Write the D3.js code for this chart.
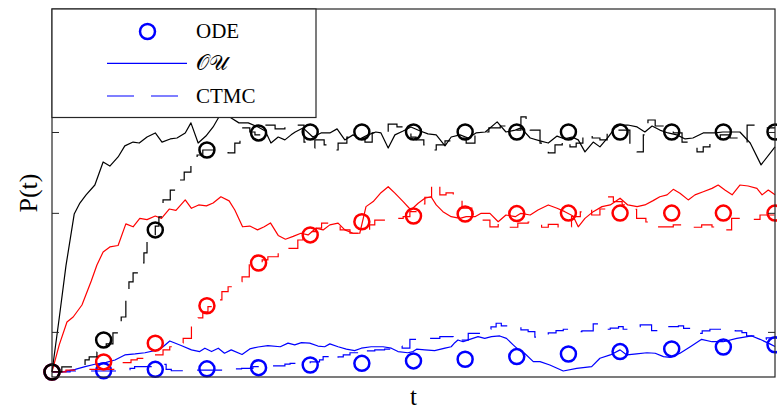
<!DOCTYPE html>
<html>
<head>
<meta charset="utf-8">
<script src="https://cdn.jsdelivr.net/npm/d3@7"></script>
<style>
  html, body { margin: 0; padding: 0; background: #fff; }
  svg { display: block; }
</style>
</head>
<body>
<svg id="chart" width="777" height="412"></svg>
<script>
// ODE solution, sampled at integer times
const odeTimes = [0, 1, 2, 3, 4, 5, 6, 7, 8, 9, 10, 11, 12, 13, 14];
const odeBlack = [0, 0.133, 0.592, 0.925, 0.996, 1, 1, 1, 1, 1, 1, 1, 1, 1, 1];
const odeRed = [0, 0.042, 0.12, 0.276, 0.454, 0.571, 0.626, 0.65, 0.658, 0.66, 0.662, 0.662, 0.662, 0.662, 0.662];
const odeBlue = [0, 0.005, 0.011, 0.013, 0.018, 0.029, 0.036, 0.046, 0.053, 0.064, 0.075, 0.085, 0.096, 0.104, 0.113];

// OU sample paths [t, P]
const ouBlack = [[0,0],[0.14,0.225],[0.27,0.442],[0.43,0.658],[0.54,0.704],[0.66,0.738],[0.83,0.779],[0.99,0.875],[1.12,0.858],[1.28,0.896],[1.41,0.942],[1.57,0.958],[1.69,0.954],[1.84,0.979],[2.0,0.996],[2.13,0.958],[2.29,0.971],[2.42,0.975],[2.58,0.996],[2.69,1.038],[2.83,0.954],[2.98,0.983],[3.12,1.021],[3.22,1.058],[3.35,1.1],[3.47,1.058],[3.62,1.038],[3.8,1.038],[3.99,1.021],[4.13,1.004],[4.24,0.954],[4.38,0.979],[4.51,0.967],[4.63,0.988],[4.71,1.0],[4.86,1.017],[5.05,0.979],[5.21,0.996],[5.38,0.996],[5.52,1.013],[5.67,0.967],[5.83,0.988],[5.96,0.971],[6.12,0.988],[6.27,1.0],[6.37,0.996],[6.51,0.933],[6.64,0.988],[6.8,1.004],[6.95,1.021],[7.13,1.004],[7.28,0.992],[7.44,0.988],[7.61,0.942],[7.73,0.979],[7.9,0.988],[8.06,0.975],[8.21,0.996],[8.39,1.0],[8.62,1.042],[8.79,1.0],[8.97,1.008],[9.08,1.017],[9.26,0.975],[9.45,0.963],[9.61,0.954],[9.78,0.983],[9.93,0.971],[10.07,0.979],[10.19,0.967],[10.32,0.917],[10.48,0.958],[10.61,0.938],[10.77,0.979],[10.9,1.017],[11.0,1.029],[11.15,1.029],[11.33,1.021],[11.48,1.0],[11.62,1.025],[11.77,1.008],[11.93,0.996],[12.1,0.988],[12.26,0.971],[12.41,0.975],[12.61,0.996],[12.84,0.996],[12.99,1.0],[13.17,1.0],[13.32,1.0],[13.52,0.954],[13.73,0.863],[14,0.938]];
const ouRed = [[0,0],[0.14,0.113],[0.29,0.208],[0.41,0.229],[0.58,0.279],[0.76,0.379],[0.87,0.446],[0.99,0.5],[1.12,0.521],[1.28,0.527],[1.43,0.617],[1.57,0.605],[1.7,0.64],[1.84,0.635],[2.0,0.65],[2.12,0.64],[2.27,0.679],[2.4,0.673],[2.58,0.717],[2.7,0.682],[2.84,0.696],[2.99,0.692],[3.12,0.704],[3.27,0.73],[3.43,0.713],[3.54,0.675],[3.69,0.605],[3.83,0.608],[3.98,0.592],[4.11,0.605],[4.23,0.621],[4.38,0.569],[4.52,0.553],[4.67,0.565],[4.82,0.578],[4.96,0.571],[5.11,0.599],[5.25,0.592],[5.38,0.613],[5.54,0.62],[5.67,0.592],[5.83,0.578],[5.96,0.578],[6.08,0.689],[6.22,0.71],[6.37,0.747],[6.51,0.772],[6.64,0.745],[6.8,0.71],[6.95,0.675],[7.09,0.703],[7.22,0.724],[7.34,0.73],[7.44,0.696],[7.57,0.668],[7.73,0.647],[7.9,0.64],[8.02,0.647],[8.19,0.647],[8.31,0.661],[8.48,0.661],[8.64,0.626],[8.79,0.654],[8.97,0.647],[9.08,0.661],[9.26,0.654],[9.41,0.675],[9.61,0.696],[9.78,0.682],[9.93,0.668],[10.09,0.65],[10.19,0.605],[10.32,0.64],[10.48,0.668],[10.65,0.689],[10.81,0.696],[11.0,0.724],[11.15,0.696],[11.33,0.689],[11.48,0.696],[11.64,0.714],[11.77,0.73],[11.91,0.738],[12.03,0.761],[12.16,0.745],[12.32,0.717],[12.45,0.738],[12.61,0.751],[12.78,0.765],[12.9,0.779],[13.03,0.758],[13.17,0.738],[13.32,0.779],[13.48,0.775],[13.65,0.765],[13.75,0.738],[13.87,0.758],[14,0.738]];
const ouBlue = [[0,0],[0.21,0.001],[0.45,0.011],[0.64,0.022],[0.83,0.032],[1.05,0.04],[1.22,0.05],[1.41,0.071],[1.61,0.075],[1.8,0.08],[2.05,0.092],[2.15,0.105],[2.28,0.129],[2.5,0.11],[2.7,0.092],[2.86,0.085],[2.96,0.099],[3.09,0.085],[3.22,0.099],[3.34,0.078],[3.47,0.092],[3.68,0.073],[3.83,0.096],[3.99,0.104],[4.18,0.11],[4.42,0.105],[4.57,0.12],[4.7,0.113],[4.83,0.122],[4.99,0.12],[5.15,0.108],[5.28,0.105],[5.38,0.117],[5.54,0.105],[5.7,0.095],[5.86,0.089],[5.99,0.099],[6.18,0.105],[6.41,0.105],[6.57,0.099],[6.7,0.085],[6.89,0.08],[6.99,0.085],[7.06,0.095],[7.22,0.092],[7.41,0.089],[7.61,0.099],[7.73,0.105],[7.8,0.122],[7.86,0.133],[7.96,0.126],[8.09,0.136],[8.25,0.147],[8.38,0.14],[8.51,0.147],[8.67,0.15],[8.8,0.14],[8.93,0.113],[9.02,0.095],[9.15,0.078],[9.32,0.043],[9.45,0.043],[9.64,0.029],[9.9,0.004],[10.16,0.015],[10.45,0.022],[10.61,0.057],[10.81,0.071],[11.0,0.092],[11.13,0.071],[11.32,0.075],[11.52,0.08],[11.68,0.078],[11.84,0.064],[11.97,0.061],[12.16,0.078],[12.36,0.105],[12.58,0.136],[12.78,0.126],[13.0,0.126],[13.26,0.14],[13.55,0.15],[13.71,0.136],[13.9,0.117],[14,0.106]];

// CTMC jump times and levels [t, P]
const ctmcBlack = [[0,0],[0.19,0.021],[0.64,0.05],[0.72,0.063],[0.87,0.083],[1.05,0.117],[1.18,0.163],[1.3,0.188],[1.34,0.229],[1.43,0.329],[1.49,0.375],[1.57,0.413],[1.7,0.454],[1.78,0.496],[1.84,0.558],[2.0,0.608],[2.07,0.646],[2.15,0.717],[2.29,0.758],[2.4,0.8],[2.56,0.833],[2.69,0.875],[2.81,0.904],[2.92,0.925],[3.41,0.913],[3.54,0.954],[3.64,1.017],[3.83,1.0],[3.93,0.988],[4.09,1.029],[4.32,1.013],[4.51,1.029],[4.88,0.958],[4.96,0.933],[5.09,0.967],[5.27,0.946],[5.4,0.925],[5.54,0.954],[5.71,0.979],[5.83,0.975],[6.06,0.958],[6.2,0.996],[6.35,1.0],[6.51,1.033],[6.68,1.021],[6.89,1.017],[6.95,0.979],[7.05,0.967],[7.2,0.946],[7.32,0.925],[7.44,0.946],[7.61,0.963],[7.86,0.975],[8.02,0.954],[8.19,0.983],[8.31,1.0],[8.46,1.017],[8.68,1.025],[8.97,1.008],[9.08,1.063],[9.18,1.038],[9.26,1.008],[9.45,0.954],[9.55,0.933],[9.61,0.913],[9.74,0.946],[9.88,0.967],[9.93,0.958],[10.03,0.938],[10.15,0.954],[10.28,0.992],[10.46,0.975],[10.61,0.967],[10.75,1.0],[10.9,1.008],[11.19,0.954],[11.33,0.917],[11.45,0.988],[11.48,1.029],[11.54,1.05],[11.68,1.025],[11.87,1.008],[12.03,0.996],[12.2,0.958],[12.36,0.946],[12.49,0.917],[12.61,0.938],[12.74,0.967],[12.94,0.988],[13.13,0.975],[13.32,0.954],[13.46,1.029],[13.61,1.021],[13.77,1.017],[14,1.017]];
const ctmcRed = [[0,0],[0.27,0.008],[0.7,0.011],[1.26,0.025],[1.38,0.039],[1.53,0.05],[1.65,0.057],[1.94,0.071],[2.15,0.092],[2.28,0.105],[2.44,0.121],[2.54,0.14],[2.7,0.196],[2.83,0.225],[2.92,0.251],[3.02,0.272],[3.18,0.3],[3.29,0.335],[3.41,0.355],[3.54,0.376],[3.68,0.396],[3.82,0.453],[4.07,0.467],[4.18,0.48],[4.38,0.515],[4.76,0.55],[4.86,0.567],[4.99,0.585],[5.12,0.599],[5.22,0.62],[5.58,0.592],[5.77,0.578],[6.15,0.613],[6.25,0.633],[6.55,0.64],[6.8,0.647],[6.93,0.668],[7.05,0.7],[7.22,0.728],[7.35,0.786],[7.51,0.738],[7.63,0.746],[7.77,0.717],[7.94,0.683],[8.13,0.658],[8.35,0.633],[8.48,0.605],[8.64,0.617],[8.83,0.603],[9.02,0.62],[9.22,0.625],[9.39,0.62],[9.48,0.603],[9.61,0.615],[9.8,0.6],[9.93,0.605],[10.06,0.647],[10.23,0.667],[10.39,0.682],[10.45,0.654],[10.61,0.679],[10.75,0.73],[10.87,0.71],[11.04,0.696],[11.23,0.678],[11.32,0.64],[11.5,0.625],[11.71,0.605],[12.03,0.613],[12.2,0.604],[12.36,0.603],[12.58,0.613],[12.78,0.604],[13.0,0.592],[13.16,0.64],[13.36,0.638],[13.55,0.636],[13.71,0.654],[14,0.654]];
const ctmcBlue = [[0,0],[0.35,0.004],[1.32,0.01],[1.51,0.015],[1.6,0.022],[1.94,0.029],[2.05,0.032],[2.21,0.011],[2.31,0.005],[2.6,0.008],[3.45,0.013],[3.67,0.015],[3.89,0.022],[4.22,0.025],[4.51,0.033],[4.61,0.036],[5.0,0.042],[5.18,0.05],[5.25,0.064],[5.38,0.05],[5.54,0.063],[5.64,0.071],[5.77,0.08],[5.93,0.071],[6.08,0.088],[6.25,0.092],[6.44,0.095],[6.64,0.108],[6.78,0.099],[6.93,0.136],[7.22,0.14],[7.51,0.147],[7.77,0.126],[7.9,0.133],[8.06,0.161],[8.35,0.178],[8.5,0.188],[8.6,0.203],[8.7,0.192],[9.08,0.175],[9.22,0.168],[9.35,0.145],[9.61,0.163],[9.76,0.172],[9.9,0.178],[10.07,0.168],[10.26,0.171],[10.48,0.2],[10.61,0.178],[10.81,0.183],[10.97,0.189],[11.06,0.178],[11.19,0.189],[11.39,0.196],[11.61,0.172],[11.9,0.189],[12.13,0.192],[12.23,0.182],[12.36,0.175],[12.45,0.161],[12.59,0.171],[12.74,0.178],[13.23,0.171],[13.36,0.164],[13.45,0.15],[13.65,0.136],[13.83,0.142],[14,0.142]];

const yTickValues = [0.167, 0.663, 1];
const legendLabels = ["ODE", "\u{1D4AA}\u{1D4B0}", "CTMC"];

(function() {
  const INK = "#262626";
  const FONT = "'Liberation Serif', 'DejaVu Serif', serif";

  const svg = d3.select("#chart");
  const left = 52, right = 775, top = 9, bottom = 377;

  const x = d3.scaleLinear().domain([0, 14]).range([left, right]);
  const y = d3.scaleLinear().domain([-0.021, 1.5125]).range([bottom, top]);

  const groups = [
    { color: "#0000ff", ode: odeBlue, ou: ouBlue, ctmc: ctmcBlue },
    { color: "#ff0000", ode: odeRed, ou: ouRed, ctmc: ctmcRed },
    { color: "#000000", ode: odeBlack, ou: ouBlack, ctmc: ctmcBlack }
  ];

  const line = d3.line().x(d => x(d[0])).y(d => y(d[1]));
  const step = d3.line().x(d => x(d[0])).y(d => y(d[1])).curve(d3.curveStepAfter);

  const plot = svg.append("g");

  groups.forEach(s => {
    plot.append("path")
      .datum(s.ou)
      .attr("fill", "none")
      .attr("stroke", s.color)
      .attr("stroke-width", 1.2)
      .attr("stroke-linejoin", "round")
      .attr("d", line);

    plot.append("path")
      .datum(s.ctmc)
      .attr("fill", "none")
      .attr("stroke", s.color)
      .attr("stroke-width", 1.2)
      .attr("stroke-dasharray", "25,15")
      .attr("d", step);

    plot.selectAll(null)
      .data(s.ode)
      .join("circle")
      .attr("cx", (d, i) => x(odeTimes[i]))
      .attr("cy", d => y(d))
      .attr("r", 7.5)
      .attr("fill", "none")
      .attr("stroke", s.color)
      .attr("stroke-width", 2.5);
  });

  // Axes box with inward ticks on left and right only
  const leftAxis = svg.append("g")
    .attr("transform", `translate(${left},0)`)
    .call(d3.axisLeft(y).tickValues(yTickValues).tickSize(-7).tickFormat(""));
  const rightAxis = svg.append("g")
    .attr("transform", `translate(${right},0)`)
    .call(d3.axisRight(y).tickValues(yTickValues).tickSize(-7).tickFormat(""));
  [leftAxis, rightAxis].forEach(a => {
    a.select(".domain").remove();
    a.selectAll(".tick line").attr("stroke", INK).attr("stroke-width", 1);
  });

  svg.append("rect")
    .attr("x", left).attr("y", top)
    .attr("width", right - left).attr("height", bottom - top)
    .attr("fill", "none")
    .attr("stroke", INK)
    .attr("stroke-width", 1.2);

  // Axis labels
  svg.append("text")
    .attr("x", (left + right) / 2)
    .attr("y", 405)
    .attr("text-anchor", "middle")
    .attr("font-family", FONT)
    .attr("font-size", 25)
    .attr("fill", "#000")
    .text("t");

  svg.append("text")
    .attr("transform", `translate(37,${(top + bottom) / 2}) rotate(-90)`)
    .attr("text-anchor", "middle")
    .attr("font-family", FONT)
    .attr("font-size", 26)
    .attr("fill", "#000")
    .text("P(t)");

  // Legend
  const legend = svg.append("g");
  legend.append("rect")
    .attr("x", left).attr("y", top)
    .attr("width", 264).attr("height", 108.5)
    .attr("fill", "#fff")
    .attr("stroke", INK)
    .attr("stroke-width", 1.2);

  const rowY = [31.5, 63.3, 96];
  legend.append("circle")
    .attr("cx", 147.5).attr("cy", rowY[0])
    .attr("r", 7.5)
    .attr("fill", "none")
    .attr("stroke", "#0000ff")
    .attr("stroke-width", 2.5);
  legend.append("line")
    .attr("x1", 107).attr("x2", 187)
    .attr("y1", rowY[1]).attr("y2", rowY[1])
    .attr("stroke", "#0000ff").attr("stroke-width", 1.2);
  legend.append("line")
    .attr("x1", 107).attr("x2", 187)
    .attr("y1", rowY[2]).attr("y2", rowY[2])
    .attr("stroke", "#0000ff").attr("stroke-width", 1.2)
    .attr("stroke-dasharray", "27,17");

  legend.selectAll("text.lbl")
    .data(legendLabels)
    .join("text")
    .attr("class", "lbl")
    .attr("x", 196)
    .attr("y", (d, i) => rowY[i] + 6.5)
    .attr("font-family", FONT)
    .attr("font-size", 21)
    .attr("fill", "#000")
    .text(d => d);
})();
</script>
</body>
</html>
